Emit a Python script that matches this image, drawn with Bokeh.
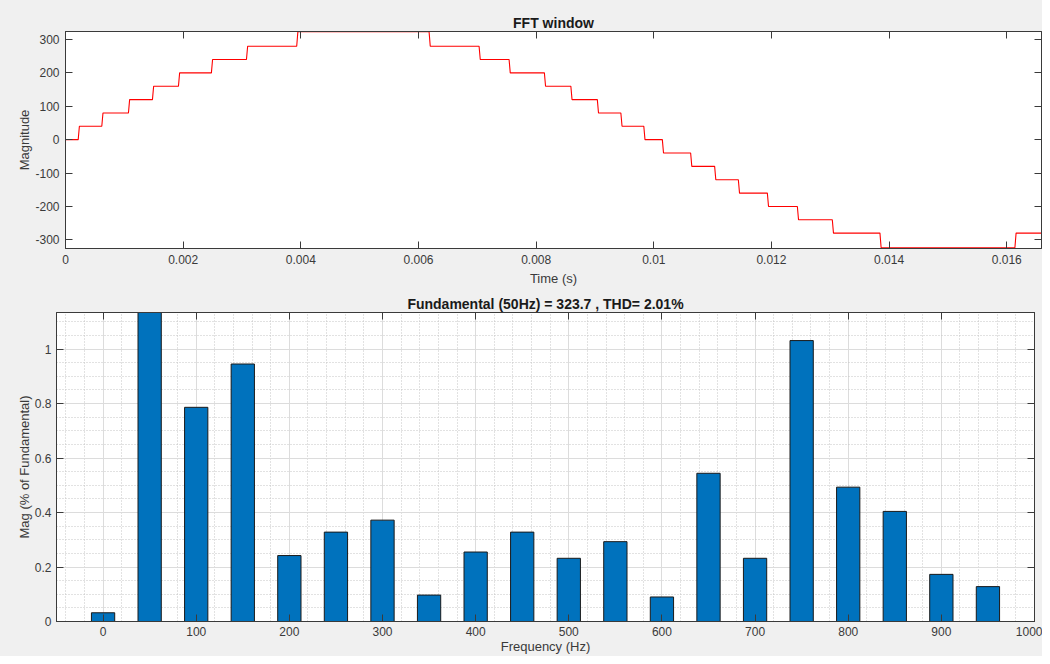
import numpy as np
from bokeh.plotting import figure
from bokeh.models import Range1d, FixedTicker, LinearAxis, CustomJSTickFormatter
from bokeh.layouts import column
from bokeh.embed import file_html
from bokeh.resources import INLINE

# ---------------- data ----------------
# FFT window: staircase waveform (switching instants in s, new level after switch)
switch_times = [0.000216, 0.000617, 0.00107, 0.001478, 0.00192, 0.00248, 0.003076, 0.00393,
                0.00618, 0.00703, 0.00754, 0.00814, 0.00859, 0.00904, 0.00944, 0.00983,
                0.010145, 0.010626, 0.011034, 0.011437, 0.01193, 0.01244, 0.013034, 0.013844,
                0.016138]
switch_levels = [40, 80, 120, 160, 200, 240, 280, 323.7,
                 280, 240, 200, 160, 120, 80, 40, 0,
                 -40, -80, -120, -160, -200, -240, -280, -323.7,
                 -280]
start_level = 0
window_end = 0.01659
time_ticks = [0, 0.002, 0.004, 0.006, 0.008, 0.01, 0.012, 0.014, 0.016]
magnitude_ticks = [-300, -200, -100, 0, 100, 200, 300]

# Harmonic spectrum (% of fundamental)
freqs = [0, 50, 100, 150, 200, 250, 300, 350, 400, 450, 500, 550, 600, 650, 700, 750, 800, 850, 900, 950]
mags = [0.032, 100, 0.786, 0.945, 0.242, 0.328, 0.372, 0.097, 0.255, 0.328, 0.232, 0.293,
        0.090, 0.544, 0.232, 1.031, 0.493, 0.404, 0.173, 0.128]
freq_ticks = [0, 100, 200, 300, 400, 500, 600, 700, 800, 900, 1000]
pct_ticks = [0, 0.2, 0.4, 0.6, 0.8, 1.0]
fundamental_hz = 50
fundamental_mag = 323.7
thd_pct = 2.01

# ---------------- style ----------------
FONT = "Liberation Sans"
TXT = "#3a3a3a"
AX = "#3a3a3a"
BG = "#f0f0f0"
BAR = "#0072BD"

num_fmt = CustomJSTickFormatter(code="return String(Number(tick.toFixed(6)));")
empty_fmt = CustomJSTickFormatter(code="return '';")


def style_axis(ax, label=None, standoff=6, label_standoff=4):
    ax.major_tick_in = 7
    ax.major_tick_out = 0
    ax.minor_tick_in = 0
    ax.minor_tick_out = 0
    ax.minor_tick_line_color = None
    ax.axis_line_color = AX
    ax.major_tick_line_color = AX
    ax.major_label_text_font = FONT
    ax.major_label_text_font_size = "12px"
    ax.major_label_text_color = TXT
    ax.major_label_standoff = standoff
    if label is not None:
        ax.axis_label = label
        ax.axis_label_text_font = FONT
        ax.axis_label_text_font_size = "13px"
        ax.axis_label_text_font_style = "normal"
        ax.axis_label_text_color = TXT
        ax.axis_label_standoff = label_standoff


def add_box_axes(p, xt, yt):
    top = LinearAxis(ticker=FixedTicker(ticks=xt), formatter=empty_fmt)
    right = LinearAxis(ticker=FixedTicker(ticks=yt), formatter=empty_fmt)
    for a in (top, right):
        style_axis(a, standoff=0)
        a.major_label_text_font_size = "0px"
    p.add_layout(top, "above")
    p.add_layout(right, "right")


# ---------------- top: FFT window ----------------
xs = [0.0]
ys = [start_level]
lvl = start_level
ramp = 2e-5
for t, nl in zip(switch_times, switch_levels):
    xs += [t, t + ramp]
    ys += [lvl, nl]
    lvl = nl
xs.append(window_end)
ys.append(lvl)

p1 = figure(width=1042, height=290, x_range=Range1d(0, window_end), y_range=Range1d(-326, 324),
            output_backend="svg", toolbar_location=None,
            min_border_left=65, min_border_right=1, min_border_top=31, min_border_bottom=42,
            border_fill_color=BG, background_fill_color="white",
            outline_line_color=AX, outline_line_width=1)
p1.frame_align = False
p1.grid.visible = False
p1.line(xs, ys, line_color="#ff0000", line_width=1.1)
p1.xaxis.ticker = FixedTicker(ticks=time_ticks)
p1.yaxis.ticker = FixedTicker(ticks=magnitude_ticks)
p1.xaxis.formatter = num_fmt
p1.yaxis.formatter = num_fmt
style_axis(p1.xaxis[0], "Time (s)")
style_axis(p1.yaxis[0], "Magnitude", label_standoff=0)
add_box_axes(p1, time_ticks, magnitude_ticks)
p1.title.text = "FFT window"
p1.title.align = "center"
p1.title.text_font = FONT
p1.title.text_font_size = "14px"
p1.title.text_font_style = "bold"
p1.title.text_color = "#1a1a1a"
p1.title.standoff = 2

# ---------------- bottom: spectrum ----------------
p2 = figure(width=1042, height=366, x_range=Range1d(-50, 1000), y_range=Range1d(0, 1.134),
            output_backend="svg", toolbar_location=None,
            min_border_left=56, min_border_right=8, min_border_top=22, min_border_bottom=34,
            border_fill_color=BG, background_fill_color="white",
            outline_line_color=AX, outline_line_width=1)
p2.frame_align = False
p2.vbar(x=freqs, top=mags, width=25, bottom=0, fill_color=BAR, line_color="#1a1a1a", line_width=1)

x_minor = [v for v in np.arange(-40, 1001, 20) if v % 100 != 0]
y_minor = [round(v, 3) for v in np.arange(0.05, 1.134, 0.05) if abs(v / 0.2 - round(v / 0.2)) > 1e-6]
p2.xaxis.ticker = FixedTicker(ticks=freq_ticks)
p2.yaxis.ticker = FixedTicker(ticks=pct_ticks)
p2.xaxis.formatter = num_fmt
p2.yaxis.formatter = num_fmt
p2.xgrid.ticker = FixedTicker(ticks=freq_ticks, minor_ticks=x_minor)
p2.ygrid.ticker = FixedTicker(ticks=pct_ticks, minor_ticks=y_minor)
for g in (p2.xgrid[0], p2.ygrid[0]):
    g.grid_line_color = "#dcdcdc"
    g.grid_line_width = 1
    g.minor_grid_line_color = "#c4c4c4"
    g.minor_grid_line_dash = "1 2"
    g.minor_grid_line_width = 1
style_axis(p2.xaxis[0], "Frequency (Hz)", standoff=5, label_standoff=0)
style_axis(p2.yaxis[0], "Mag (% of Fundamental)", standoff=5, label_standoff=0)
add_box_axes(p2, freq_ticks, pct_ticks)
p2.title.text = f"Fundamental ({fundamental_hz}Hz) = {fundamental_mag} , THD= {thd_pct:.2f}%"
p2.title.align = "center"
p2.title.text_font = FONT
p2.title.text_font_size = "14px"
p2.title.text_font_style = "bold"
p2.title.text_color = "#1a1a1a"
p2.title.standoff = 2

layout = column(p1, p2, spacing=0, styles={"background-color": BG})
open("out.html", "w").write(file_html(layout, INLINE))
